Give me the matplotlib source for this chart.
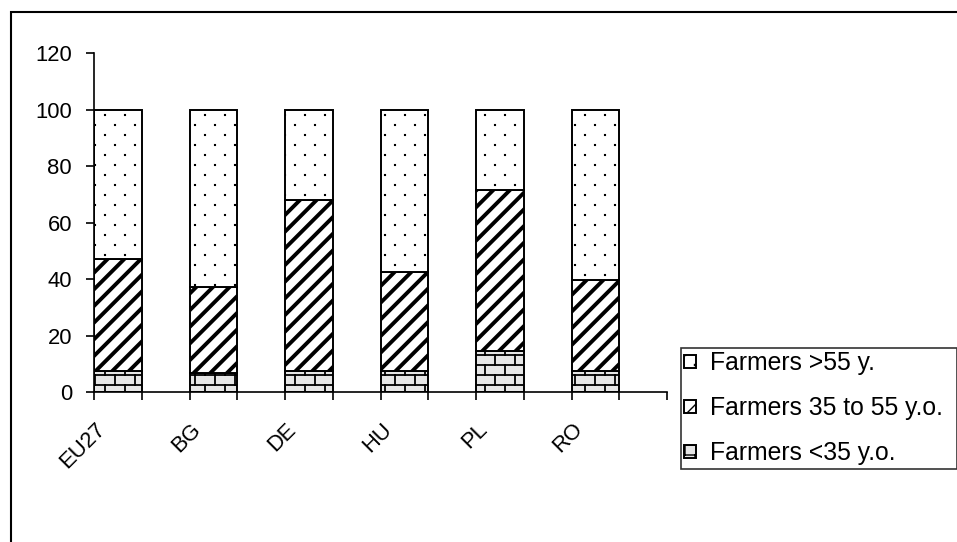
import warnings
warnings.filterwarnings("ignore")
import numpy as np
import matplotlib
matplotlib.use("Agg")
import matplotlib.pyplot as plt
import matplotlib.hatch as mhatch
from matplotlib.path import Path
from matplotlib.patches import Rectangle
from matplotlib.transforms import ScaledTranslation

# ---------------- data ----------------
countries = ["EU27", "BG", "DE", "HU", "PL", "RO"]
under_35 = [7.4, 6.8, 7.4, 7.4, 14.7, 7.4]
from_35_to_55 = [39.8, 30.3, 60.6, 35.0, 56.8, 32.4]
over_55 = [52.8, 62.9, 32.0, 57.6, 28.5, 60.2]
y_ticks = [0, 20, 40, 60, 80, 100, 120]
series_labels = ["Farmers <35 y.o.", "Farmers 35 to 55 y.o.", "Farmers >55 y."]


# ---------------- custom hatches (brick / sparse dots) ----------------
class BrickHatch(mhatch.HatchPatternBase):
    def __init__(self, hatch, density):
        segs = []
        if hatch.count('B'):
            rows, cols = 10, 5
            for r in range(rows):
                y0 = (r + 0.5) / rows
                y1 = (r + 1.5) / rows
                segs.append(((0.0, y0), (1.0, y0)))
                off = 0.25 if r % 2 == 0 else 0.75
                for c in range(cols):
                    x = (c + off) / cols
                    if y1 <= 1.0:
                        segs.append(((x, y0), (x, y1)))
                    else:
                        segs.append(((x, y0), (x, 1.0)))
                        segs.append(((x, 0.0), (x, y1 - 1.0)))
        self.segs = segs
        self.num_vertices = 2 * len(segs)

    def set_vertices_and_codes(self, vertices, codes):
        vertices[:] = np.array(self.segs, dtype=float).reshape(-1, 2)
        codes[0::2] = Path.MOVETO
        codes[1::2] = Path.LINETO


class DotHatch(mhatch.HatchPatternBase):
    def __init__(self, hatch, density):
        pts = []
        if hatch.count('D'):
            rows, cols = 10, 5
            for r in range(rows):
                off = 0.25 if r % 2 == 0 else 0.75
                for c in range(cols):
                    pts.append(((c + off) / cols, (r + 0.5) / rows))
        self.pts = pts
        self.num_vertices = 5 * len(pts)

    def set_vertices_and_codes(self, vertices, codes):
        s = 0.005
        sq = np.array([[-s, -s], [s, -s], [s, s], [-s, s], [-s, -s]])
        vertices[:] = np.concatenate([sq + np.array(p) for p in self.pts])
        codes[:] = np.tile([Path.MOVETO, Path.LINETO, Path.LINETO,
                            Path.LINETO, Path.CLOSEPOLY], len(self.pts))


mhatch._hatch_types.append(BrickHatch)
mhatch._hatch_types.append(DotHatch)

plt.rcParams['font.family'] = ['Liberation Sans', 'DejaVu Sans']

fig = plt.figure(figsize=(9.57, 5.42), dpi=100)
ax = fig.add_axes([94 / 957, 1 - 392 / 542, (667 - 94) / 957, (392 - 53.5) / 542])

x = np.arange(len(countries))
bottom2 = np.array(under_35)
bottom3 = bottom2 + np.array(from_35_to_55)


def make_bars(vals, bottom, hatch, face, hlw, label):
    with plt.rc_context({'hatch.linewidth': hlw}):
        bars = ax.bar(x, vals, width=0.5, bottom=bottom, align='edge',
                      color=face, edgecolor='black', linewidth=1.4,
                      hatch=hatch, label=label)
    for p in bars:
        if hasattr(p, 'set_hatch_linewidth'):
            p.set_hatch_linewidth(hlw)
    return bars


b1 = make_bars(under_35, 0, 'B', '#e6e6e6', 1.3, series_labels[0])
b2 = make_bars(from_35_to_55, bottom2, '//', 'white', 2.8, series_labels[1])
b3 = make_bars(over_55, bottom3, 'D', 'white', 0.8, series_labels[2])

ax.set_xlim(0, len(countries))
ax.set_ylim(0, 120)
ax.set_yticks(y_ticks)
ax.set_xticks(np.arange(0, len(countries) + 0.01, 0.5))
ax.set_xticklabels([])
for s in ['top', 'right']:
    ax.spines[s].set_visible(False)
for s in ['left', 'bottom']:
    ax.spines[s].set_linewidth(1.2)
    ax.spines[s].set_color('black')
ax.tick_params(axis='y', direction='out', length=5.8, width=1.2,
               pad=10, labelsize=15.8, colors='black')
ax.tick_params(axis='x', direction='out', length=5.8, width=1.2)

off = ScaledTranslation(-23 / 100, -27 / 100, fig.dpi_scale_trans)
for i, name in enumerate(countries):
    ax.text(i + 0.25, 0, name, transform=ax.get_xaxis_transform() + off,
            rotation=45, ha='right', va='top', rotation_mode='anchor',
            fontsize=15.8, color='black')

leg = fig.legend([b3, b2, b1], [series_labels[2], series_labels[1], series_labels[0]],
                 loc='upper left',
                 bbox_to_anchor=(681 / 957, 1 - 468 / 542, 276 / 957, 120 / 542),
                 bbox_transform=fig.transFigure, borderaxespad=0, mode='expand',
                 fontsize=17.8, frameon=True, fancybox=False, shadow=False,
                 handlelength=0.45, handleheight=0.45, handletextpad=0.6,
                 labelspacing=0.85, borderpad=0.14)
leg.get_frame().set_edgecolor('black')
leg.get_frame().set_linewidth(1.2)

# outer chart-area border (extends past the crop on right/bottom)
fig.patches.append(Rectangle((11 / 957, -0.2), 1.5, 1.2 - 12 / 542,
                             transform=fig.transFigure, fill=False,
                             edgecolor='black', linewidth=1.5, clip_on=False))

fig.savefig("out.png", dpi=100)
